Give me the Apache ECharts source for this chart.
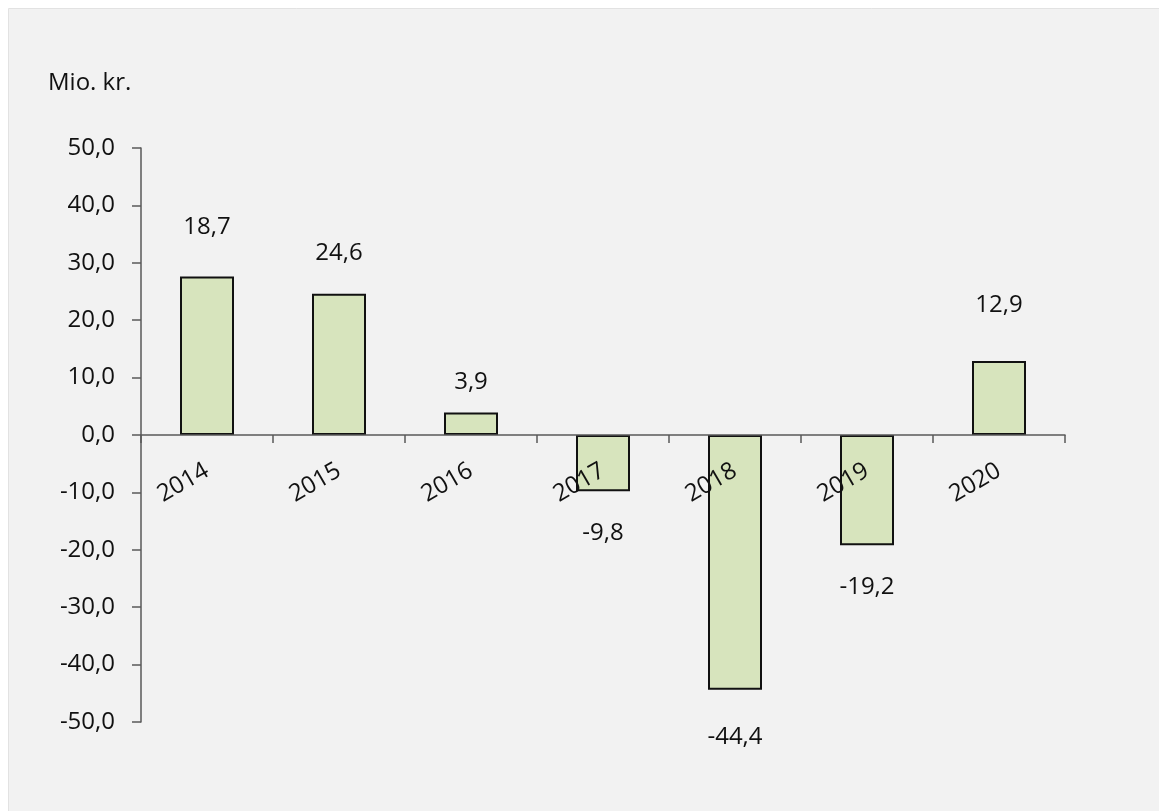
<!DOCTYPE html>
<html>
<head>
<meta charset="utf-8">
<script src="https://cdn.jsdelivr.net/npm/echarts@6/dist/echarts.min.js"></script>
<style>
html,body{margin:0;padding:0;background:#ffffff;}
#chart{width:1159px;height:811px;}
</style>
</head>
<body>
<div id="chart"></div>
<script>
const categories = ['2014', '2015', '2016', '2017', '2018', '2019', '2020'];
const barValues = [27.6, 24.6, 3.9, -9.8, -44.4, -19.2, 12.9];
const labelTexts = ['18,7', '24,6', '3,9', '-9,8', '-44,4', '-19,2', '12,9'];
const yTicks = { min: -50, max: 50, interval: 10 };
const unitLabel = 'Mio. kr.';

// label distance from bar end (style only)
const labelDistances = [37, 29, 18, 30, 35, 30, 44];

const FONT = '"Open Sans", sans-serif';
const TEXT = '#111111';
const chart = echarts.init(document.getElementById('chart'));

const seriesData = barValues.map((v, i) => ({
  value: v,
  label: {
    position: v >= 0 ? 'top' : 'bottom',
    distance: labelDistances[i],
    formatter: () => labelTexts[i]
  }
}));

chart.setOption({
  backgroundColor: '#ffffff',
  animation: false,
  graphic: [
    { type: 'rect', left: 8, top: 8, z: -10,
      shape: { width: 1151, height: 803 },
      style: { fill: '#f2f2f2', stroke: '#e2e2e2', lineWidth: 1 } },
    { type: 'text', left: 48, top: 71, z: 10,
      style: { text: unitLabel, font: '24px ' + FONT, fill: TEXT } }
  ],
  grid: { left: 141, right: 94, top: 148, bottom: 89, containLabel: false },
  xAxis: {
    type: 'category',
    data: categories,
    z: 5,
    axisLine: { onZero: true, lineStyle: { color: '#595959', width: 1.5 } },
    axisTick: { show: true, alignWithLabel: false, length: 8, lineStyle: { color: '#595959', width: 1.5 } },
    axisLabel: { rotate: 30, margin: -253, fontSize: 24, fontFamily: FONT, color: TEXT },
    splitLine: { show: false }
  },
  yAxis: {
    type: 'value',
    min: yTicks.min, max: yTicks.max, interval: yTicks.interval,
    axisLine: { show: true, lineStyle: { color: '#595959', width: 1.5 } },
    axisTick: { show: true, length: 9, lineStyle: { color: '#595959', width: 1.5 } },
    axisLabel: { margin: 26, fontSize: 24, fontFamily: FONT, color: TEXT,
      formatter: v => v.toFixed(1).replace('.', ',') },
    splitLine: { show: false }
  },
  series: [{
    type: 'bar',
    data: seriesData,
    barWidth: 54,
    itemStyle: { color: '#d7e4bd', borderColor: '#111111', borderWidth: 2 },
    label: { show: true, fontSize: 24, lineHeight: 24, fontFamily: FONT, color: TEXT }
  }]
});
</script>
</body>
</html>
